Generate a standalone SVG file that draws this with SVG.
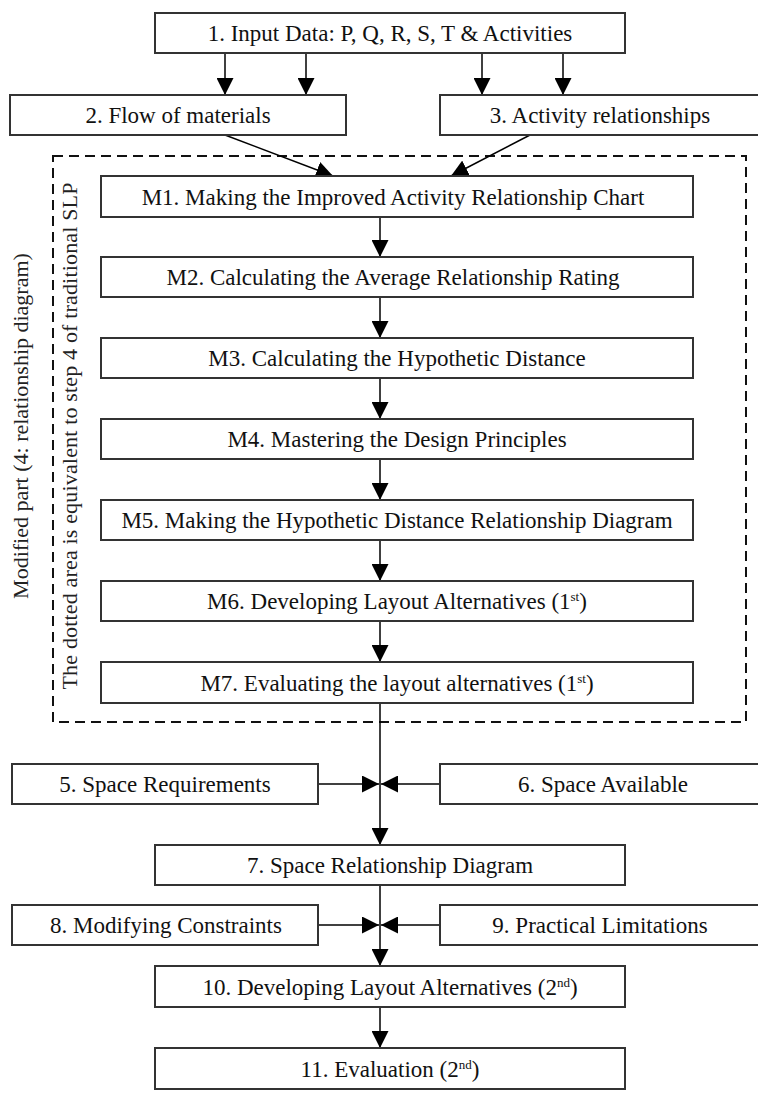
<svg xmlns="http://www.w3.org/2000/svg" width="758" height="1095" viewBox="0 0 758 1095">
<style>
.box{fill:#fff;stroke:#333;stroke-width:2}
.t{font-family:"Liberation Serif","Times New Roman",serif;font-size:23px;fill:#111;text-anchor:middle}
.v{font-family:"Liberation Serif","Times New Roman",serif;font-size:22px;fill:#222;text-anchor:middle}
.c{stroke:#000;stroke-width:1.5;fill:none}
.sup{font-size:13px}
</style>
<defs>
<marker id="ah" viewBox="0 0 17 17" refX="17" refY="8.5" markerWidth="17" markerHeight="17" markerUnits="userSpaceOnUse" orient="auto">
<path d="M0,0 L17,8.5 L0,17 z" fill="#000"/>
</marker>
</defs>
<rect width="758" height="1095" fill="#fff"/>

<g id="dotted-area">
<rect x="53" y="156" width="693" height="566" fill="none" stroke="#111" stroke-width="2" stroke-dasharray="10,6"/>
<text class="v" transform="translate(28,426) rotate(-90)">Modified part (4: relationship diagram)</text>
<text class="v" transform="translate(77,436) rotate(-90)" textLength="507" lengthAdjust="spacing">The dotted area is equivalent to step 4 of traditional SLP</text>
</g>

<g id="connectors">
<line class="c" x1="225" y1="53" x2="225" y2="95" marker-end="url(#ah)"/>
<line class="c" x1="306" y1="53" x2="306" y2="95" marker-end="url(#ah)"/>
<line class="c" x1="482" y1="53" x2="482" y2="95" marker-end="url(#ah)"/>
<line class="c" x1="563" y1="53" x2="563" y2="95" marker-end="url(#ah)"/>
<line class="c" x1="225" y1="135" x2="333" y2="176" marker-end="url(#ah)"/>
<line class="c" x1="530" y1="135" x2="451" y2="176" marker-end="url(#ah)"/>
<line class="c" x1="380" y1="217" x2="380" y2="257" marker-end="url(#ah)"/>
<line class="c" x1="380" y1="297" x2="380" y2="338" marker-end="url(#ah)"/>
<line class="c" x1="380" y1="378" x2="380" y2="419" marker-end="url(#ah)"/>
<line class="c" x1="380" y1="459" x2="380" y2="500" marker-end="url(#ah)"/>
<line class="c" x1="380" y1="540" x2="380" y2="581" marker-end="url(#ah)"/>
<line class="c" x1="380" y1="621" x2="380" y2="662" marker-end="url(#ah)"/>
<line class="c" x1="380" y1="703" x2="380" y2="845" marker-end="url(#ah)"/>
<line class="c" x1="318" y1="784" x2="379" y2="784" marker-end="url(#ah)"/>
<line class="c" x1="440" y1="784" x2="381" y2="784" marker-end="url(#ah)"/>
<line class="c" x1="380" y1="885" x2="380" y2="966" marker-end="url(#ah)"/>
<line class="c" x1="318" y1="925" x2="379" y2="925" marker-end="url(#ah)"/>
<line class="c" x1="440" y1="925" x2="381" y2="925" marker-end="url(#ah)"/>
<line class="c" x1="380" y1="1007" x2="380" y2="1048" marker-end="url(#ah)"/>
</g>

<g id="n1"><rect class="box" x="155" y="13" width="470" height="40"/><text class="t" x="390" y="41">1. Input Data: P, Q, R, S, T &amp; Activities</text></g>
<g id="n2"><rect class="box" x="10" y="95" width="336" height="40"/><text class="t" x="178" y="123">2. Flow of materials</text></g>
<g id="n3"><path class="box" d="M760,95 H440 V135 H760"/><text class="t" x="600" y="123">3. Activity relationships</text></g>

<g id="m1"><rect class="box" x="101" y="176" width="592" height="41"/><text class="t" x="393" y="204.5">M1. Making the Improved Activity Relationship Chart</text></g>
<g id="m2"><rect class="box" x="101" y="257" width="592" height="40"/><text class="t" x="393" y="285">M2. Calculating the Average Relationship Rating</text></g>
<g id="m3"><rect class="box" x="101" y="338" width="592" height="40"/><text class="t" x="397" y="366">M3. Calculating the Hypothetic Distance</text></g>
<g id="m4"><rect class="box" x="101" y="419" width="592" height="40"/><text class="t" x="397" y="447">M4. Mastering the Design Principles</text></g>
<g id="m5"><rect class="box" x="101" y="500" width="592" height="40"/><text class="t" x="397" y="528">M5. Making the Hypothetic Distance Relationship Diagram</text></g>
<g id="m6"><rect class="box" x="101" y="581" width="592" height="40"/><text class="t" x="397" y="609">M6. Developing Layout Alternatives (1<tspan class="sup" dy="-8">st</tspan><tspan dy="8">)</tspan></text></g>
<g id="m7"><rect class="box" x="101" y="662" width="592" height="41"/><text class="t" x="397" y="690.5">M7. Evaluating the layout alternatives (1<tspan class="sup" dy="-8">st</tspan><tspan dy="8">)</tspan></text></g>

<g id="n5"><rect class="box" x="12" y="764" width="306" height="40"/><text class="t" x="165" y="792">5. Space Requirements</text></g>
<g id="n6"><path class="box" d="M760,764 H440 V804 H760"/><text class="t" x="603" y="792">6. Space Available</text></g>
<g id="n7"><rect class="box" x="155" y="845" width="470" height="40"/><text class="t" x="390" y="873">7. Space Relationship Diagram</text></g>
<g id="n8"><rect class="box" x="12" y="905" width="306" height="40"/><text class="t" x="166" y="933">8. Modifying Constraints</text></g>
<g id="n9"><path class="box" d="M760,905 H440 V945 H760"/><text class="t" x="600" y="933">9. Practical Limitations</text></g>
<g id="n10"><rect class="box" x="155" y="966" width="470" height="41"/><text class="t" x="390" y="994.5">10. Developing Layout Alternatives (2<tspan class="sup" dy="-8">nd</tspan><tspan dy="8">)</tspan></text></g>
<g id="n11"><rect class="box" x="155" y="1048" width="470" height="41"/><text class="t" x="390" y="1076.5">11. Evaluation (2<tspan class="sup" dy="-8">nd</tspan><tspan dy="8">)</tspan></text></g>
</svg>
